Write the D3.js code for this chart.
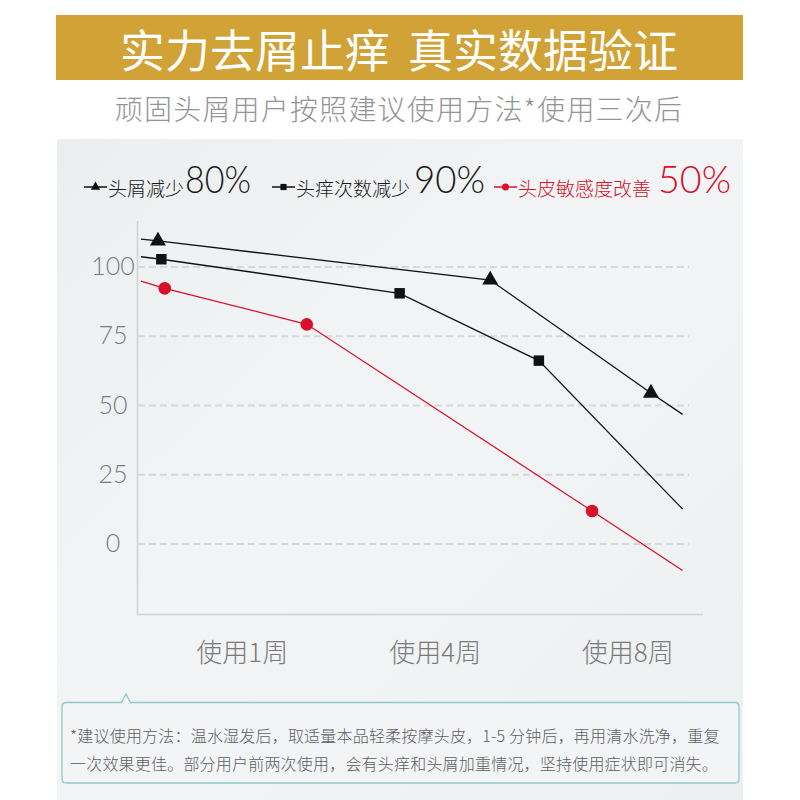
<!DOCTYPE html>
<html><head><meta charset="utf-8">
<script src="https://cdn.jsdelivr.net/npm/d3@7"></script>
<style>
html,body{margin:0;padding:0;background:#fff;}
svg{display:block;}
</style></head>
<body>
<svg id="chart" width="800" height="800"></svg>
<script>
// ---- data ----
const titleParts = ["实力去屑止痒", "真实数据验证"];
const subtitle = "顽固头屑用户按照建议使用方法*使用三次后";
const yTicks = [0, 25, 50, 75, 100];
const xTickPos = [18.6, 52.7, 86.7];
const xTickLabels = ["使用1周", "使用4周", "使用8周"];
const seriesNames = ["头屑减少", "头痒次数减少", "头皮敏感度改善"];
const seriesHighlights = ["80%", "90%", "50%"];
// line positions (x in chart units) and values; markers on the inner points
const dandruffX = [0.7, 3.7, 62.4, 90.8, 96.4];
const dandruffY = [110.1, 109.4, 95.3, 54.5, 46.8];
const itchX = [0.7, 4.3, 46.4, 71.0, 96.4];
const itchY = [103.7, 102.8, 90.5, 66.2, 12.6];
const sensX = [0.7, 4.9, 30.0, 80.4, 96.4];
const sensY = [94.9, 92.3, 79.3, 11.9, -9.6];
const noteLines = [
  "*建议使用方法：温水湿发后，取适量本品轻柔按摩头皮，1-5 分钟后，再用清水洗净，重复",
  "一次效果更佳。部分用户前两次使用，会有头痒和头屑加重情况，坚持使用症状即可消失。"
];

const svg = d3.select("#chart");
const CJK = "'Noto Sans CJK SC','Noto Sans',sans-serif";
const NUM = "Lato,'Noto Sans CJK SC',sans-serif";

// gradient background panel
const defs = svg.append("defs");
const g = defs.append("linearGradient").attr("id","bg").attr("x1","0").attr("y1","0").attr("x2","1").attr("y2","1");
g.append("stop").attr("offset","0%").attr("stop-color","#eceff0");
g.append("stop").attr("offset","45%").attr("stop-color","#f2f4f5");
g.append("stop").attr("offset","100%").attr("stop-color","#edf0f1");
svg.append("rect").attr("x",57).attr("y",139).attr("width",686).attr("height",661).attr("fill","url(#bg)");

// banner
svg.append("rect").attr("x",56).attr("y",15).attr("width",687).attr("height",65).attr("fill","#d1a336");
svg.append("g").selectAll("text").data(titleParts).join("text")
  .attr("x",(d,i)=>i===0?120:408).attr("y",48).attr("dominant-baseline","central")
  .attr("fill","#fff").attr("font-family",CJK).attr("font-size",45).attr("font-weight",400).text(d=>d);
svg.append("text").attr("x",399).attr("y",108).attr("text-anchor","middle").attr("dominant-baseline","central")
  .attr("fill","#949494").attr("font-family",CJK).attr("font-size",28).attr("font-weight",300)
  .attr("letter-spacing",1.2).text(subtitle);

// scales
const x = d3.scaleLinear().domain([0,100]).range([137,703]);
const y = d3.scaleLinear().domain([0,100]).range([544,267]);

// gridlines
svg.append("g").selectAll("line").data(yTicks).join("line")
  .attr("x1",138).attr("x2",689).attr("y1",d=>y(d)).attr("y2",d=>y(d))
  .attr("stroke","#d6d8d9").attr("stroke-width",2).attr("stroke-dasharray","7,4");

// axes lines
svg.append("line").attr("x1",137.5).attr("x2",137.5).attr("y1",221).attr("y2",614.5).attr("stroke","#d0d2d3").attr("stroke-width",1.5);
svg.append("line").attr("x1",137).attr("x2",703).attr("y1",614.5).attr("y2",614.5).attr("stroke","#d0d2d3").attr("stroke-width",1.5);

// y tick labels
svg.append("g").selectAll("text").data(yTicks).join("text")
  .attr("x",113).attr("y",d=>y(d)-2).attr("text-anchor","middle").attr("dominant-baseline","central")
  .attr("fill","#7a7a7a").attr("font-family",NUM).attr("font-size",25).attr("font-weight",300)
  .text(d=>d);

// x tick labels
svg.append("g").selectAll("text").data(xTickPos).join("text")
  .attr("x",d=>x(d)).attr("y",650).attr("text-anchor","middle").attr("dominant-baseline","central")
  .attr("fill","#7a7a7a").attr("font-family",CJK).attr("font-size",26).attr("font-weight",300)
  .text((d,i)=>xTickLabels[i]);

const series = [
  {xs:dandruffX, ys:dandruffY, color:"#111", sym:d3.symbolTriangle, size:110, w:1.3},
  {xs:itchX, ys:itchY, color:"#111", sym:d3.symbolSquare, size:110, w:1.3},
  {xs:sensX, ys:sensY, color:"#d8102a", sym:d3.symbolCircle, size:125, w:1.2}
];
const line = d3.line().x(d=>x(d[0])).y(d=>y(d[1]));
series.forEach(s=>{
  const pts = s.xs.map((v,i)=>[v, s.ys[i]]);
  svg.append("path").attr("d",line(pts)).attr("fill","none").attr("stroke",s.color).attr("stroke-width",s.w);
  svg.append("g").selectAll("path").data(pts.slice(1,4)).join("path")
    .attr("transform",d=>`translate(${x(d[0])},${y(d[1])})`)
    .attr("d",d3.symbol().type(s.sym).size(s.size)).attr("fill",s.color);
});

// legend
const legendX = [84, 272, 494];
const legendTextW = [[76,66],[117,71],[139,73]];
series.forEach((s,i)=>{
  const lg = svg.append("g").attr("transform",`translate(${legendX[i]},187)`);
  lg.append("line").attr("x1",0).attr("x2",23).attr("y1",0).attr("y2",0).attr("stroke",s.color).attr("stroke-width",1.5);
  lg.append("path").attr("transform","translate(11.5,0)").attr("d",d3.symbol().type(s.sym).size(38)).attr("fill",s.color);
  const col = i===2 ? "#d8102a" : "#1a1a1a";
  lg.append("text").attr("x",24).attr("y",0).attr("dominant-baseline","central")
    .attr("fill",col).attr("font-family",CJK).attr("font-size",19).attr("font-weight",300)
    .text(seriesNames[i]);
  lg.append("text").attr("x",24+legendTextW[i][0]+1).attr("y",6).attr("dominant-baseline","alphabetic")
    .attr("fill",col).attr("font-family",NUM).attr("font-size",38).attr("font-weight",300)
    .attr("textLength",legendTextW[i][1]).attr("lengthAdjust","spacingAndGlyphs")
    .text(seriesHighlights[i]);
});

// note box
svg.append("path")
  .attr("d","M66,702.5 L121.5,702.5 L126,694 L130.5,702.5 L735,702.5 Q739,702.5 739,706.5 L739,779 Q739,783 735,783 L66,783 Q62,783 62,779 L62,706.5 Q62,702.5 66,702.5 Z")
  .attr("fill","#f2f4f5").attr("stroke","#8ccbc6").attr("stroke-width",1.3);
svg.append("g").selectAll("text").data(noteLines).join("text")
  .attr("x",70).attr("y",(d,i)=>735+i*28).attr("dominant-baseline","central")
  .attr("fill","#5e5e5e").attr("font-family",CJK).attr("font-size",16).attr("font-weight",300)
  .attr("letter-spacing",0.2)
  .text(d=>d);
</script>
</body></html>
